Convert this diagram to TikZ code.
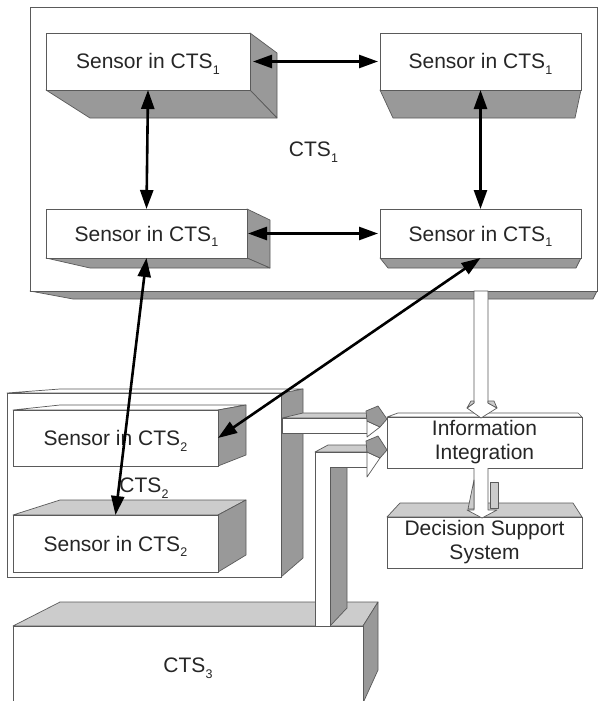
\documentclass[tikz,border=0pt]{standalone}
\usepackage{fontspec}
\setmainfont{Liberation Sans}
\usetikzlibrary{arrows.meta}
\definecolor{dk}{HTML}{999999}
\definecolor{lt}{HTML}{CCCCCC}
\definecolor{ln}{HTML}{5A5A5A}
\definecolor{tx}{HTML}{262626}
\newcommand\lowidx[1]{\kern0.3pt\raisebox{-5.5pt}{\fontsize{12.5}{12.5}\selectfont #1}}
\begin{document}
\begin{tikzpicture}[x=1pt,y=-1pt,
  face/.style={draw=ln, line width=0.7pt, fill=white, inner sep=0pt, outer sep=0pt, text=tx,
    font=\fontsize{21}{24}\selectfont, align=center},
  one/.style={text depth=0pt, text height=15pt},
  dkface/.style={draw=ln, line width=0.7pt, fill=dk, line join=round},
  ltface/.style={draw=ln, line width=0.7pt, fill=lt, line join=round},
  wface/.style={draw=ln, line width=0.7pt, fill=white, line join=round},
  link/.style={line width=2.6pt, black, {Triangle[length=19pt,width=13pt]}-{Triangle[length=19pt,width=13pt]}},
]
\useasboundingbox (0,0) rectangle (599,701);
\fill[white] (0,0) rectangle (599,701);

% ---------- CTS1 ----------
\draw[dkface] (30,291) -- (597,291) -- (593,299) -- (73,299) -- cycle;
\node[face, one, minimum width=567pt, minimum height=284pt] (cts1) at (313.5,149) {CTS\lowidx{1}};

% sensors in CTS1
\draw[dkface] (250,33) -- (277,53) -- (277,118) -- (250,90) -- cycle;
\draw[dkface] (46,90) -- (250,90) -- (277,118) -- (90,118) -- cycle;
\node[face, one, minimum width=204pt, minimum height=57pt] (tl) at (148,61.5) {Sensor in CTS\lowidx{1}};

\draw[dkface] (380,90) -- (581,90) -- (575,118) -- (393,118) -- cycle;
\node[face, one, minimum width=201pt, minimum height=57pt] (tr) at (480.5,61.5) {Sensor in CTS\lowidx{1}};

\draw[dkface] (247,209) -- (270,220) -- (270,268) -- (247,258) -- cycle;
\draw[dkface] (46,258) -- (247,258) -- (270,268) -- (90,268) -- cycle;
\node[face, one, minimum width=201pt, minimum height=49pt] (ml) at (146.5,233.5) {Sensor in CTS\lowidx{1}};

\draw[dkface] (380,258) -- (581,258) -- (576,268) -- (388,268) -- cycle;
\node[face, one, minimum width=201pt, minimum height=49pt] (mr) at (480.5,233.5) {Sensor in CTS\lowidx{1}};

% ---------- CTS3 ----------
\draw[ltface] (13,626) -- (60,602) -- (378,602) -- (363,626) -- cycle;
\draw[dkface] (363,626) -- (378,602) -- (378,670) -- (363,703) -- cycle;
\node[face, one, minimum width=350pt, minimum height=78pt] (cts3) at (188,665) {CTS\lowidx{3}};

% L-shaped pipe from CTS3
\draw[dkface] (330,467) -- (347,467) -- (347,608) -- (330,626) -- cycle;
\draw[ltface] (315,452) -- (328,445) -- (367,445) -- (367,452) -- cycle;
\draw[wface] (315,452) -- (367,452) -- (367,467) -- (330,467) -- (330,626) -- (315,626) -- cycle;

% ---------- CTS2 ----------
\draw[dkface] (281,393) -- (303,389) -- (303,558) -- (281,577) -- cycle;
\draw[wface] (7,393) -- (60,389) -- (303,389) -- (281,393) -- cycle;
\node[face, one, minimum width=274pt, minimum height=184pt] (cts2) at (144,485) {CTS\lowidx{2}};

% pipe from CTS2
\draw[ltface] (282,418) -- (303,413) -- (367,413) -- (367,418) -- cycle;
\draw[wface] (282,418) rectangle (367,433);

% sensors in CTS2
\draw[wface] (13,410) -- (60,405) -- (246,405) -- (218,410) -- cycle;
\draw[dkface] (218,410) -- (246,405) -- (246,455) -- (218,466) -- cycle;
\node[face, one, minimum width=205pt, minimum height=56pt] (s2a) at (115.5,438) {Sensor in CTS\lowidx{2}};

\draw[ltface] (13,515) -- (60,500) -- (246,500) -- (218,515) -- cycle;
\draw[dkface] (218,515) -- (246,500) -- (246,555) -- (218,572) -- cycle;
\node[face, one, minimum width=205pt, minimum height=57pt] (s2b) at (115.5,543.5) {Sensor in CTS\lowidx{2}};

% ---------- Information Integration / DSS ----------
\draw[wface] (387,417) -- (398,413) -- (578,413) -- (582,417) -- cycle;
\node[face, minimum width=195pt, minimum height=51pt] (info) at (484.5,442.5) {Information\\Integration};

\draw[ltface] (387,517) -- (400,503) -- (573,503) -- (582,517) -- cycle;
\node[face, minimum width=195pt, minimum height=51pt] (dss) at (484.5,542.5) {Decision Support\\System};

% pipe CTS1 -> Information Integration
\draw[wface] (474,291) -- (474,403) -- (467,408) -- (481,418) -- (497,408) -- (488,403) -- (488,291) -- cycle;
\draw[ltface] (467,408) -- (471,401) -- (474,401) -- (474,403) -- cycle;
\draw[ltface] (488,403) -- (488,401) -- (494,401) -- (497,408) -- cycle;

% pipe Information Integration -> DSS
\draw[ltface] (490,482) rectangle (498,508);
\draw[wface] (474,468) -- (474,510) -- (467,510) -- (482,518) -- (497,510) -- (488,510) -- (488,468);
\draw[ltface] (474,480) -- (468,509) -- (474,509) -- cycle;

% chevron heads of the horizontal pipes
\draw[wface] (367,421) -- (380,427) -- (367,437) -- cycle;
\draw[dkface] (366,411) -- (378,406) -- (387,419) -- (380,427) -- (367,421) -- cycle;
\draw[wface] (367,452) -- (380,458) -- (367,477) -- cycle;
\draw[dkface] (366,441) -- (378,436) -- (387,450) -- (380,458) -- (367,452) -- cycle;

% ---------- communication links ----------
\draw[link, shorten <=3pt, shorten >=2pt] (tl.east) -- (tr.west);
\draw[link] (tl.south) -- (ml.north);
\draw[link] (tr.south) -- (mr.north);
\draw[link, shorten <=1pt, shorten >=2pt] (ml.east) -- (mr.west);
\draw[link] (ml.south) -- (s2b.north);
\draw[link] (mr.south) -- (s2a.east);
\end{tikzpicture}
\end{document}
